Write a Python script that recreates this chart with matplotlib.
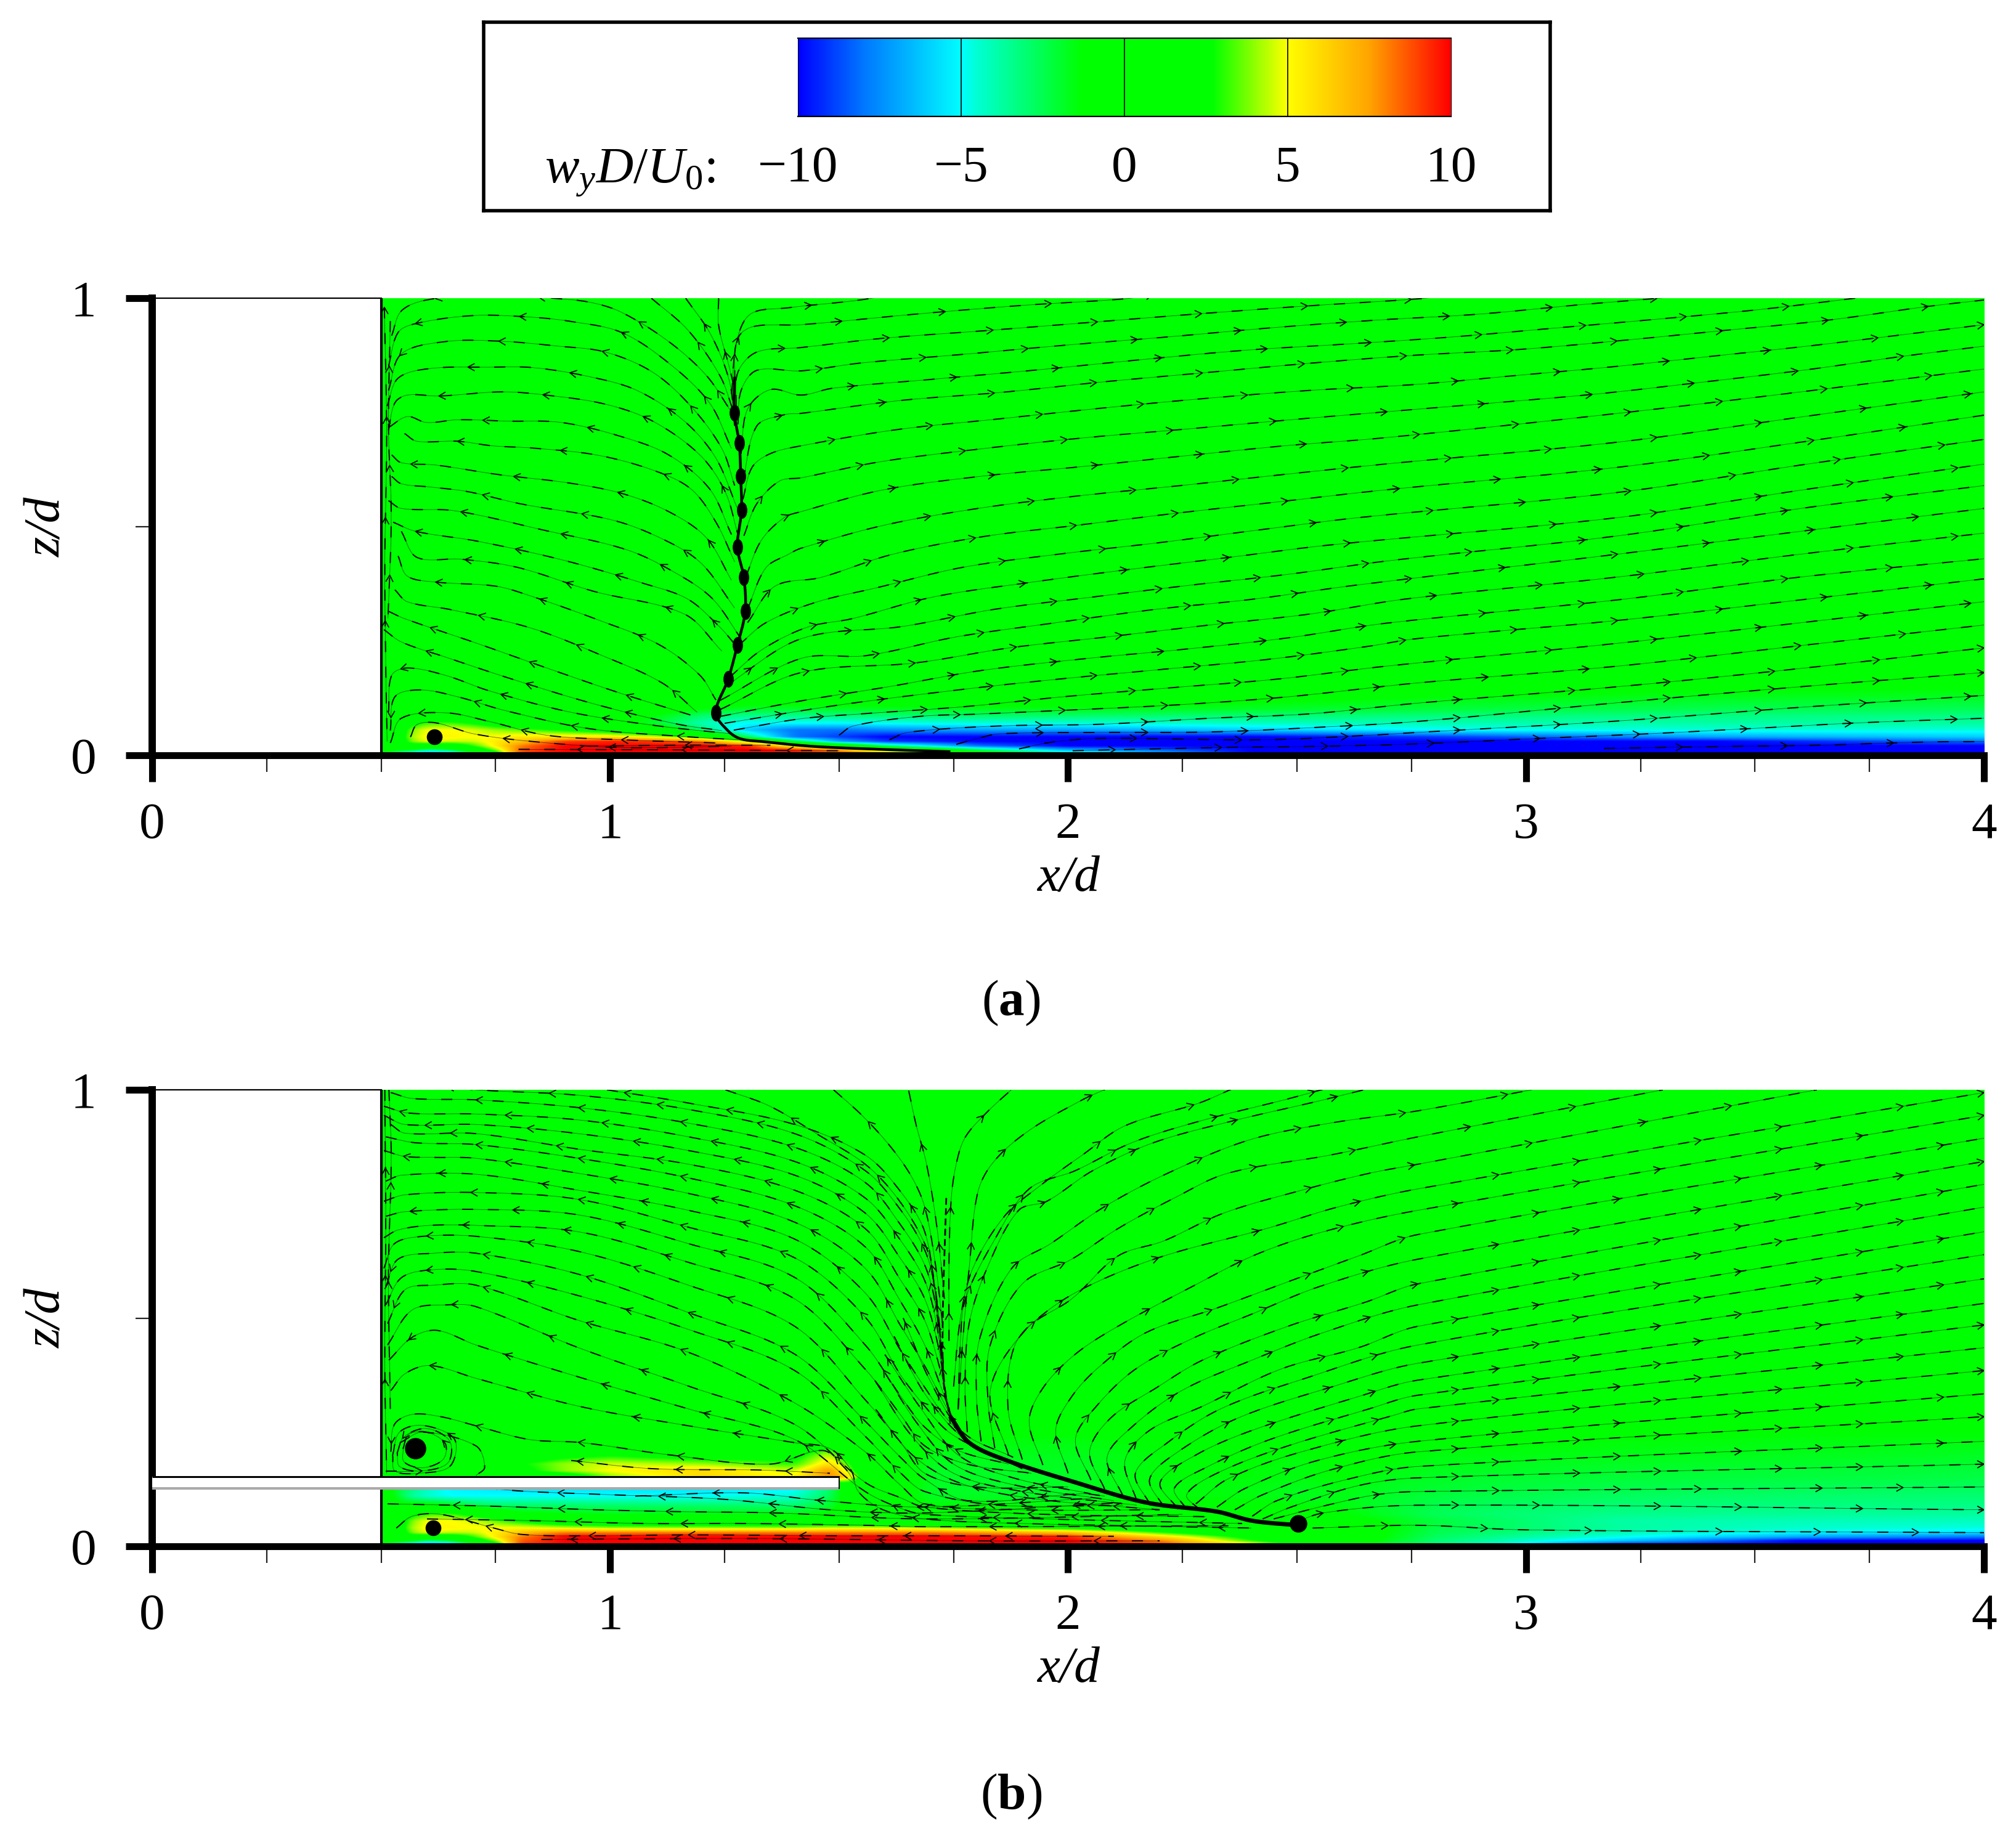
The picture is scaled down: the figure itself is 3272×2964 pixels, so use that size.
import numpy as np
import matplotlib
matplotlib.use("Agg")
import matplotlib.pyplot as plt
from matplotlib.collections import LineCollection
from matplotlib.colors import LinearSegmentedColormap
from matplotlib.patches import Rectangle
from matplotlib.path import Path
from matplotlib.transforms import Affine2D

plt.rcParams['font.family'] = ['Liberation Serif', 'DejaVu Serif']
plt.rcParams['mathtext.fontset'] = 'custom'
plt.rcParams['mathtext.rm'] = 'Liberation Serif'
plt.rcParams['mathtext.it'] = 'Liberation Serif:italic'
plt.rcParams['mathtext.bf'] = 'Liberation Serif:bold'
plt.rcParams['lines.scale_dashes'] = False

# ---------------- colour scale ----------------
CBAR_TICKS = [-10, -5, 0, 5, 10]
CBAR_LABELS = ['\u221210', '\u22125', '0', '5', '10']
CMAP_VALUES = [-10, -8, -5, -4.6, -1.3, 2.7, 5, 7.5, 10]
CMAP_COLORS = ['#0000ff', '#0078ff', '#00ffff', '#00ffd8', '#00ff00', '#00ff00', '#ffff00', '#ffa500', '#ff0000']

XTICKS = [0, 1, 2, 3, 4]
XMINOR = [0.25, 0.5, 0.75, 1.25, 1.5, 1.75, 2.25, 2.5, 2.75, 3.25, 3.5, 3.75]
YTICKS = [0, 1]
YMINOR = [0.5]

# ---------------- panel (a) field w_y D/U0 ----------------
XA = [.5, .53, .56, .6, .65, .7, .75, .8, .9, 1.0, 1.1, 1.2, 1.3, 1.4, 1.5, 1.6, 1.8, 2.0, 2.4, 2.8, 3.4, 4.0]
ZA = [0, .005, .012, .02, .03, .04, .055, .07, .085, .1, .13, .2, 1]
FIELD_A = [
    [-1, -4, -7, -9, -8, -4, 1, 9, 10, 10, 10, 10, 10, 10, 10, 8, 1, -6, -10, -10, -10, -10],
    [-1, -3, -5, -7, -6, -2, 2, 9, 10, 10, 10, 10, 10, 10, 9, 6, 0, -4, -10, -10, -10, -10],
    [0, -1, -1, -3, -2, 1, 4, 8.5, 10, 10, 10, 10, 10, 9, 7, 3, -3, -7, -10, -10, -10, -10],
    [0, 0, 2, 1, 1, 3, 5.5, 8, 10, 10, 10, 10, 9.5, 5, 2, -3, -8, -10, -10, -10, -10, -10],
    [0, 0, 3.5, 5, 4.5, 4.5, 5.5, 6.5, 9, 9.5, 9, 8, 4, -2, -7, -9, -10, -10, -10, -10, -10, -8],
    [0, 0, 4, 5.2, 5.2, 5, 5, 5.5, 5.5, 5.5, 4.5, 2.5, -3, -8, -9, -10, -10, -10, -10, -9, -7, -6],
    [0, 0, 3.5, 5, 5, 4.6, 4, 3.5, 2.5, 1.5, 0, -3, -6, -8, -8, -7.5, -7, -7, -6, -5, -4.6, -4.6],
    [0, 0, 2, 3.2, 3.2, 2.6, 1.5, 1, 0, -.5, -2, -4, -5, -5, -5, -4.8, -4.6, -4.5, -4.2, -4, -3.8, -3.7],
    [0, 0, 0, .5, .5, .5, 0, 0, 0, -.5, -1.5, -3, -3.5, -3.5, -3.3, -3.1, -3, -3, -3.1, -3.2, -3.3, -3.3],
    [0, 0, 0, 0, 0, 0, 0, 0, 0, 0, -.5, -1.5, -2, -2, -1.9, -1.8, -1.7, -1.7, -1.9, -2.2, -2.5, -2.6],
    [0, 0, 0, 0, 0, 0, 0, 0, 0, 0, 0, 0, 0, 0, 0, 0, 0, 0, -.8, -1.3, -1.6, -1.7],
    [0] * 22,
    [0] * 22,
]

# ---------------- panel (b) field ----------------
XB = [.5, .53, .56, .6, .65, .7, .75, .8, .9, 1.0, 1.2, 1.4, 1.48, 1.52, 1.56, 1.7, 2.0, 2.2, 2.4, 2.5, 2.6, 2.7, 2.8, 2.95, 3.2, 3.6, 4.0]
ZB = [0, .005, .012, .02, .03, .04, .055, .07, .09, .11, .126, .152, .165, .18, .2, .23, .28, .4, 1]
FIELD_B = [
    [-1, -4, -7, -9, -8, -4, 1, 9, 10, 10, 10, 10, 10, 10, 10, 10, 10, 10, 8, 2, 0, -2.5, -3.5, -6, -10, -10, -10],
    [-1, -3, -5, -7, -6, -2, 2, 9, 10, 10, 10, 10, 10, 10, 10, 10, 10, 9, 5, 2, 0, -2, -3, -4.5, -9, -10, -10],
    [0, -1, -1, -3, -2, 1, 4, 8.5, 10, 10, 10, 10, 10, 10, 10, 10, 10, 8, 3, 1, 0, -1.7, -3, -4, -6, -10, -10],
    [0, 0, 2, 1, 1, 3, 5.5, 8, 10, 10, 10, 10, 10, 10, 10, 10, 9.5, 6, 2, 0, 0, -1.5, -2.7, -3.5, -4.8, -7, -8],
    [0, 0, 3.5, 5, 4.5, 4.5, 5.5, 6.5, 8, 8, 8, 8, 8, 8, 8, 8, 6.5, 3, 0, 0, 0, -1.4, -2.5, -3, -4, -5, -5.5],
    [0, 0, 4, 5.2, 5.2, 5, 5, 5, 4.5, 4, 4, 4, 4.5, 4.5, 4.5, 4, 2, 0, 0, 0, 0, -1.3, -2.3, -2.8, -3.7, -4.4, -4.7],
    [0, 0, 3.5, 5, 5, 4.6, 3.5, 2.5, .5, 0, 0, 0, 0, 0, 0, 0, 0, 0, 0, 0, -.8, -1.5, -2.2, -2.8, -3.8, -4.1, -4.2],
    [0, 0, 2, 3.2, 3.2, 2, .5, -1, -1.3, -1.5, -1.5, -1.5, -1.2, 0, 0, -.8, -.8, -.5, -.5, -.8, -1.3, -1.9, -2.6, -3, -3.4, -3.6, -3.7],
    [0, -1, -1, -1, -1.5, -2.5, -3, -3, -3, -3, -3, -3, -2, -.5, 0, -1.4, -1.5, -1, -1.2, -1.4, -1.5, -2, -2.4, -2.7, -3, -3.2, -3.3],
    [0, -1.5, -3.5, -4.5, -5, -5, -5, -5, -5, -5, -5, -4.5, -2.5, -.5, 0, -1.8, -1.8, -1.4, -1.5, -1.7, -1.6, -1.9, -2.2, -2.4, -2.7, -2.9, -3],
    [0, -2, -3, -4.2, -5.2, -5.3, -5.5, -5.5, -5.5, -5.5, -5.5, -5.2, -3, 0, 0, -1.8, -1.8, -1.4, -1.5, -1.7, -1.5, -1.8, -2, -2.2, -2.4, -2.6, -2.7],
    [0, 0, 0, 0, 0, 0, 0, .5, 1, 4, 6, 5, 8, 6, .5, -1.8, -1.8, -1.4, -1.4, -1.5, -1.3, -1.6, -1.8, -2, -2.1, -2.2, -2.3],
    [0, 0, 0, 0, 0, 0, .5, 2, 4, 5, 6, 4.5, 8, 4, 0, -1.8, -1.8, -1.4, -1.4, -1.5, -1.3, -1.5, -1.7, -1.8, -2, -2.1, -2.2],
    [0, 0, 0, 0, 0, 0, 1, 2.5, 4, 4.6, 4, 3, 6, 3, 0, -1.7, -1.8, -1.4, -1.3, -1.5, -1.2, -1.4, -1.6, -1.7, -1.8, -1.9, -2],
    [0, 0, 0, 0, 0, 0, 0, 1, 2, 2.5, 1.5, 2, 4.5, 1, 0, -1.6, -1.7, -1.4, -1.3, -1.4, -1.1, -1.3, -1.5, -1.5, -1.6, -1.7, -1.8],
    [0] * 12 + [1, 0, 0] + [-1.4, -1.5, -1.3, -1, -1, -1, -1.2, -1.3, -1.3, -1.4, -1.5, -1.5],
    [0] * 15 + [-.8, -.8, -.5, -.2, -.2, -.3, -.5, -.7, -.8, -.9, -1, -1],
    [0] * 27,
    [0] * 27,
]

# ---------------- panel (a) streamlines (x/d, z/d) ----------------
LEFT_A = [
    [(.523,.918),(.544,.972),(.599,.996),(.736,1.009),(.873,1.0),(.956,.991),(1.025,.969),(1.128,.905),(1.21,.831),(1.265,.751)],
    [(.516,.851),(.537,.925),(.578,.945),(.702,.962),(.819,.959),(.915,.949),(1.025,.925),(1.128,.858),(1.217,.771),(1.265,.671)],
    [(.516,.798),(.544,.878),(.64,.905),(.757,.906),(.887,.895),(.99,.882),(1.093,.838),(1.176,.764),(1.244,.671),(1.272,.59)],
    [(.513,.764),(.537,.825),(.606,.846),(.736,.849),(.832,.848),(.956,.828),(1.059,.798),(1.162,.731),(1.231,.65),(1.279,.537)],
    [(.516,.711),(.53,.771),(.557,.788),(.626,.786),(.764,.795),(.86,.788),(.99,.768),(1.093,.731),(1.196,.657),(1.251,.577),(1.279,.483)],
    [(.516,.717),(.557,.741),(.599,.728),(.667,.734),(.777,.731),(.894,.728),(1.025,.697),(1.128,.657),(1.217,.583),(1.265,.483)],
    [(.551,.704),(.578,.687),(.667,.687),(.743,.677),(.832,.672),(.97,.657),(1.093,.624),(1.176,.583),(1.231,.51),(1.272,.423)],
    [(.523,.657),(.544,.64),(.619,.635),(.757,.614),(.908,.596),(1.025,.573),(1.128,.533),(1.21,.476),(1.265,.383)],
    [(.523,.61),(.544,.594),(.606,.587),(.688,.577),(.805,.55),(1.011,.513),(1.135,.463),(1.203,.416),(1.272,.322)],
    [(.516,.557),(.544,.54),(.66,.535),(.853,.493),(1.038,.449),(1.148,.396),(1.224,.342),(1.286,.255)],
    [(.526,.51),(.575,.49),(.712,.468),(.901,.426),(1.073,.376),(1.169,.342),(1.238,.282),(1.279,.235)],
    [(.544,.49),(.578,.433),(.674,.429),(.798,.411),(.963,.359),(1.162,.309),(1.244,.228)],
    [(.537,.436),(.557,.392),(.619,.379),(.75,.37),(.825,.349),(.977,.295),(1.107,.242),(1.196,.175),(1.231,.121)],
    [(.53,.362),(.557,.336),(.65,.319),(.825,.279),(.983,.218),(1.114,.158),(1.19,.094)],
    [(.516,.315),(.551,.299),(.709,.245),(.87,.188),(1.025,.135),(1.176,.088)],
    [(.506,.275),(.544,.248),(.64,.215),(.791,.165),(.97,.111),(1.148,.068),(1.244,.054)],
    [(.516,.094),(.523,.175),(.557,.191),(.64,.175),(.736,.141),(.915,.094),(1.107,.064),(1.265,.047)],
    [(.52,.054),(.53,.128),(.585,.143),(.667,.128),(.77,.098),(.956,.058),(1.162,.041),(1.279,.034)],
    [(.52,.027),(.544,.081),(.64,.093),(.736,.074),(.86,.044),(1.025,.034),(1.231,.027)],
    [(.564,.04),(.578,.067),(.619,.071),(.702,.047),(.832,.03),(1.025,.017),(1.265,.02)],
    [(.8,.013),(1.1,.012),(1.5,.01)],
    [(.95,.02),(1.15,.022),(1.35,.022)],
    [(.507,.98),(.512,.7),(.508,.42),(.51,.2),(.513,.03)],
    [(.52,.95),(.516,.72),(.522,.52),(.515,.3)],
    [(1.09,1.0),(1.17,.93),(1.24,.83),(1.27,.75)],
    [(1.165,1.0),(1.22,.92),(1.26,.82),(1.272,.72)],
    [(1.237,1.0),(1.237,.94),(1.26,.85),(1.272,.8)],
]
RIGHT_A = [
    [(1.272,.818),(1.275,.9),(1.306,.965),(1.389,.979),(1.53,.994),(1.605,1.005)],
    [(1.265,.79),(1.279,.912),(1.313,.938),(1.417,.942),(1.666,.965),(1.897,.984),(2.129,.999),(2.2,1.01)],
    [(1.275,.764),(1.279,.838),(1.32,.882),(1.417,.892),(1.593,.912),(1.82,.929),(2.048,.947),(2.275,.965),(2.507,.982),(2.73,.996),(2.82,1.003)],
    [(1.279,.724),(1.286,.798),(1.32,.842),(1.417,.841),(1.546,.858),(1.769,.877),(1.992,.897),(2.215,.915),(2.442,.935),(2.674,.952),(2.896,.965),(3.122,.986),(3.33,1.003)],
    [(1.286,.66),(1.3,.757),(1.35,.8),(1.417,.788),(1.486,.803),(1.709,.823),(1.932,.843),(2.155,.865),(2.386,.886),(2.614,.9),(2.837,.915),(3.068,.935),(3.286,.954),(3.509,.975),(3.736,1.002)],
    [(1.29,.6),(1.32,.72),(1.38,.745),(1.417,.748),(1.632,.776),(1.855,.794),(2.078,.817),(2.31,.838),(2.532,.858),(2.755,.875),(2.988,.888),(3.215,.908),(3.429,.929),(3.66,.952),(3.878,.982),(4.0,.996)],
    [(1.29,.56),(1.31,.63),(1.35,.66),(1.417,.677),(1.623,.712),(1.85,.736),(2.069,.759),(2.292,.78),(2.524,.798),(2.755,.811),(2.98,.831),(3.2,.851),(3.425,.875),(3.64,.898),(4.0,.942)],
    [(1.292,.48),(1.32,.55),(1.37,.6),(1.417,.607),(1.589,.642),(1.807,.67),(2.03,.694),(2.262,.714),(2.486,.734),(2.713,.753),(2.942,.772),(3.16,.791),(3.383,.816),(3.61,.843),(3.824,.873),(4.0,.895)],
    [(1.296,.39),(1.33,.47),(1.38,.52),(1.417,.533),(1.593,.58),(1.807,.61),(2.035,.632),(2.245,.654),(2.472,.677),(2.695,.695),(3.2,.748),(3.6,.795),(4.0,.845)],
    [(1.3,.32),(1.34,.41),(1.39,.44),(1.417,.453),(1.597,.503),(1.803,.54),(2.018,.567),(2.245,.59),(2.468,.614),(2.691,.637),(3.2,.685),(3.6,.74),(4.0,.795)],
    [(1.3,.29),(1.36,.37),(1.46,.389),(1.614,.439),(1.812,.478),(2.018,.503),(2.24,.53),(2.464,.555),(2.687,.58),(3.2,.63),(3.6,.685),(4.0,.744)],
    [(1.28,.24),(1.34,.29),(1.45,.335),(1.58,.366),(1.769,.411),(1.988,.441),(2.206,.466),(2.417,.493),(2.635,.52),(3.2,.575),(3.6,.635),(4.0,.691)],
    [(1.26,.17),(1.33,.23),(1.43,.28),(1.529,.299),(1.704,.346),(1.923,.379),(2.129,.406),(2.352,.433),(2.571,.46),(3.2,.52),(3.6,.58),(4.0,.637)],
    [(1.25,.15),(1.417,.255),(1.64,.282),(1.837,.319),(2.052,.346),(2.266,.372),(2.481,.396),(2.704,.426),(3.2,.48),(3.6,.54),(4.0,.59)],
    [(1.24,.12),(1.417,.212),(1.559,.218),(1.756,.259),(1.966,.289),(2.189,.319),(2.408,.342),(2.627,.372),(3.2,.44),(3.6,.49),(4.0,.54)],
    [(1.24,.1),(1.417,.181),(1.666,.202),(1.872,.235),(2.086,.259),(2.309,.285),(2.528,.309),(2.738,.342),(3.2,.39),(3.6,.44),(4.0,.486)],
    [(1.24,.085),(1.417,.119),(1.614,.151),(1.807,.185),(2.043,.212),(2.254,.232),(2.481,.257),(2.695,.289),(3.2,.34),(3.6,.39),(4.0,.43)],
    [(1.25,.07),(1.5,.11),(1.777,.145),(1.983,.167),(2.206,.188),(2.438,.21),(2.653,.238),(2.76,.255),(3.2,.295),(3.6,.34),(4.0,.386)],
    [(1.27,.055),(1.417,.08),(1.554,.091),(1.769,.106),(2.0,.129),(2.228,.148),(2.46,.167),(2.695,.195),(3.2,.245),(3.6,.29),(4.0,.336)],
    [(1.5,.044),(1.53,.064),(1.674,.085),(1.8,.09),(2.026,.1),(2.249,.111),(2.481,.128),(2.76,.158),(3.2,.195),(3.6,.24),(4.0,.285)],
    [(1.61,.034),(1.649,.05),(1.846,.064),(2.073,.068),(2.309,.081),(2.532,.091),(2.762,.114),(3.2,.15),(3.6,.19),(4.0,.235)],
    [(1.756,.024),(1.803,.037),(1.85,.047),(2.073,.05),(2.309,.051),(2.542,.061),(2.762,.074),(3.2,.115),(3.6,.15),(4.0,.181)],
    [(1.893,.014),(1.966,.029),(2.073,.037),(2.43,.034),(2.66,.044),(2.762,.05),(3.2,.075),(3.6,.105),(4.0,.131)],
    [(2.01,.01),(2.335,.017),(2.567,.02),(2.76,.025),(3.03,.037),(3.265,.047),(3.5,.059),(3.727,.071),(4.0,.081)],
    [(3.17,.015),(3.41,.019),(3.635,.022),(3.87,.029),(4.0,.03)],
]
SEPARATRIX_A = [(1.272,.825),(1.271,.75),(1.282,.683),(1.285,.61),(1.287,.537),(1.278,.456),(1.292,.389),(1.295,.315),
                (1.278,.241),(1.258,.167),(1.231,.093),(1.258,.053),(1.285,.036),(1.333,.03),(1.436,.02),(1.55,.0145),(1.74,.008)]
NODES_A_X = [1.271, 1.282, 1.285, 1.287, 1.278, 1.292, 1.295, 1.278, 1.258, 1.231]
NODES_A_Z = [.75, .683, .61, .537, .456, .389, .315, .241, .167, .093]
VORTEX_A = (.616, .04)

# ---------------- panel (b) streamlines ----------------
BL_X = [.707, .931, 1.171, 1.403, 1.557, 1.635, 1.687]
BL_Z = [
    [.441,.371,.301,.234,.12,.083,.07],
    [.525,.435,.351,.267,.14,.106,.086],
    [.572,.495,.425,.314,.207,.133,.093],
    [.602,.549,.475,.385,.241,.16,.12],
    [.642,.596,.512,.421,.274,.194,.147],
    [.679,.646,.572,.482,.321,.227,.16],
    [.703,.689,.622,.542,.388,.287,.22],
    [.738,.726,.663,.589,.441,.328,.261],
    [.775,.76,.699,.632,.502,.374,.307],
    [.815,.78,.736,.673,.555,.428,.348],
    [.85,.817,.773,.71,.609,.482,.395],
    [.88,.85,.807,.746,.656,.535,.441],
    [.904,.87,.837,.78,.696,.582,.495],
    [.924,.904,.867,.813,.73,.629,.542],
    [.947,.934,.897,.843,.763,.669,.582],
    [.978,.961,.927,.874,.797,.703,.616],
    [1.0,.988,.957,.904,.823,.736,.649],
]
BL_HEAD = [
    [(.517,.408),(.568,.458),(.622,.473)],
    [(.514,.441),(.568,.518),(.645,.529)],
    [(.514,.488),(.552,.562),(.614,.572)],
    [(.51,.529),(.545,.589),(.614,.606)],
    [(.51,.569),(.537,.629),(.614,.642)],
    [(.506,.609),(.529,.663),(.591,.679)],
    [(.506,.676),(.537,.693),(.606,.703)],
    [(.51,.723),(.552,.733)],
    [(.506,.756),(.552,.77)],
    [(.51,.8),(.545,.813)],
    [(.506,.867),(.552,.854),(.614,.852)],
    [(.51,.897),(.575,.884)],
    [(.521,.924),(.552,.905)],
    [(.506,.944),(.552,.924)],
    [(.506,.964),(.56,.949)],
    [(.521,.994),(.568,.981)],
    [(.62,1.01)],
]
BL_TAIL = [
    [(1.95,.06),(2.38,.05)],
    [(1.95,.07),(2.3,.065)],
    [(1.9,.08),(2.2,.08)],
    [(1.85,.09),(2.12,.09)],
    [(1.78,.1),(2.03,.115),(2.08,.11)],
    [(1.8,.13),(2.0,.13)],
    [(1.78,.18),(1.92,.16)],
    [(1.76,.21),(1.87,.18)],
    [(1.74,.25),(1.83,.2)],
    [(1.735,.28),(1.8,.215)],
    [(1.726,.32),(1.77,.24)],
    [(1.722,.35),(1.755,.262)],
    [(1.72,.39),(1.745,.28)],
    [(1.716,.44),(1.738,.3)],
    [(1.714,.48),(1.733,.32)],
    [(1.712,.52),(1.73,.34)],
    [(1.71,.56),(1.73,.36)],
]
LEFT_B_EXTRA = [
    [(.521,.341),(.552,.378),(.606,.396),(.707,.368),(.931,.307),(1.171,.264),(1.403,.227),(1.48,.214),(1.526,.167),(1.542,.12),(1.596,.08),(1.687,.06),(1.9,.05),(2.4,.04)],
    [(.993,1.0),(1.171,.971),(1.403,.924),(1.557,.857),(1.635,.776),(1.687,.689),(1.71,.55),(1.728,.4)],
    [(1.252,1.0),(1.349,.964),(1.457,.9),(1.557,.837),(1.627,.763),(1.687,.663),(1.708,.58),(1.725,.42)],
    [(1.488,1.0),(1.55,.944),(1.611,.877),(1.658,.81),(1.687,.743),(1.71,.62),(1.728,.47)],
    [(1.652,.998),(1.668,.924),(1.691,.837),(1.714,.696),(1.73,.542)],
    [(.521,.207),(.529,.267),(.568,.289),(.63,.284),(.707,.264),(.823,.234),(.939,.227),(1.132,.2),(1.349,.18),(1.464,.21),(1.511,.173),(1.534,.14)],
    [(.541,.227),(.591,.25),(.707,.22),(.726,.173),(.707,.155)],
    [(.915,.188),(1.093,.17),(1.33,.167),(1.48,.16)],
    [(.548,.215),(.56,.245),(.6,.25),(.64,.225),(.635,.19),(.59,.172),(.55,.185),(.548,.215)],
    [(.525,.2),(.54,.25),(.59,.265),(.66,.235),(.65,.175),(.58,.16),(.53,.165),(.525,.2)],
    [(.535,.205),(.55,.24),(.6,.258),(.65,.23),(.645,.182),(.585,.165),(.54,.175),(.535,.205)],
    [(.51,.165),(.54,.165),(.57,.165)],
    [(.533,.04),(.568,.066),(.63,.07),(.746,.04),(.807,.026),(.954,.023),(1.171,.025),(1.48,.023),(1.687,.023),(2.1,.022)],
    [(.73,.127),(.823,.12),(1.0,.113),(1.248,.103),(1.48,.08),(1.687,.073),(2.1,.095)],
    [(1.055,.11),(1.294,.117),(1.464,.1),(1.687,.086),(2.05,.105)],
    [(.514,.093),(.738,.088),(.97,.08),(1.148,.076),(1.364,.073),(1.687,.06),(2.25,.07)],
    [(.6,.06),(.838,.056),(1.078,.05),(1.294,.05),(1.557,.046),(1.687,.043),(2.35,.045)],
    [(.85,.015),(1.3,.017),(1.8,.012),(2.2,.012)],
    [(.508,1.0),(.51,.7),(.508,.4),(.512,.16)],
    [(.517,1.0),(.522,.85),(.516,.6),(.52,.3)],
    [(1.6,.42),(1.68,.3),(1.76,.2),(1.88,.15),(2.05,.115)],
    [(1.6,.38),(1.67,.27),(1.75,.18),(1.88,.135),(2.1,.1)],
    [(1.58,.36),(1.66,.24),(1.75,.16),(1.9,.12),(2.15,.09)],
    [(1.58,.3),(1.66,.2),(1.76,.14),(1.92,.105),(2.2,.08)],
    [(1.64,.5),(1.7,.36),(1.77,.25),(1.88,.195)],
    [(1.62,.46),(1.69,.33),(1.78,.23),(1.9,.17)],
]
RIGHT_B = [
    [(1.74,.45),(1.74,.62),(1.745,.763),(1.757,.843),(1.776,.897),(1.823,.951),(1.877,1.001)],
    [(1.76,.3),(1.77,.45),(1.785,.62),(1.803,.776),(1.838,.843),(1.915,.911),(2.031,.978),(2.081,1.001)],
    [(1.75,.35),(1.765,.5),(1.792,.609),(1.861,.723),(1.939,.79),(2.031,.857),(2.124,.921),(2.286,.971),(2.356,1.001)],
    [(1.76,.3),(1.765,.45),(1.776,.542),(1.838,.669),(1.915,.783),(2.016,.823),(2.139,.884),(2.286,.931),(2.472,.978),(2.557,1.001)],
    [(1.78,.25),(1.775,.35),(1.784,.488),(1.823,.609),(1.892,.736),(1.954,.756),(2.054,.823),(2.186,.884),(2.356,.931),(2.541,.974),(2.65,1.001)],
    [(1.81,.23),(1.8,.33),(1.807,.455),(1.877,.609),(1.962,.663),(2.078,.743),(2.217,.817),(2.395,.89),(2.572,.927),(2.764,.954),(3.013,1.0)],
    [(1.84,.215),(1.825,.32),(1.83,.441),(1.9,.575),(2.008,.629),(2.109,.696),(2.232,.763),(2.348,.817),(2.572,.857),(2.764,.897),(3.299,1.0)],
    [(1.87,.2),(1.83,.341),(1.908,.475),(2.008,.542),(2.109,.636),(2.209,.669),(2.34,.73),(2.51,.78),(2.657,.817),(2.764,.837),(3.635,1.0)],
    [(1.9,.19),(1.869,.301),(1.884,.441),(1.954,.515),(2.054,.575),(2.209,.636),(2.433,.696),(2.588,.743),(2.764,.783),(4,.994)],
    [(1.945,.178),(1.915,.274),(1.946,.348),(2.016,.421),(2.109,.482),(2.271,.569),(2.41,.639),(2.557,.689),(2.764,.736),(4,.944)],
    [(2.0,.16),(1.973,.254),(2.008,.328),(2.07,.395),(2.17,.468),(2.325,.522),(2.487,.582),(2.634,.636),(2.764,.683),(4,.894)],
    [(2.05,.145),(2.016,.234),(2.062,.307),(2.147,.388),(2.271,.455),(2.402,.509),(2.549,.569),(2.764,.629),(4,.843)],
    [(2.08,.125),(2.047,.207),(2.093,.281),(2.194,.348),(2.294,.408),(2.48,.482),(2.65,.535),(2.764,.575),(4,.793)],
    [(2.12,.11),(2.085,.194),(2.139,.261),(2.248,.341),(2.402,.408),(2.557,.468),(2.764,.529),(4,.743)],
    [(2.15,.1),(2.124,.187),(2.178,.254),(2.294,.307),(2.464,.388),(2.634,.435),(2.764,.482),(4,.689)],
    [(2.18,.09),(2.147,.16),(2.217,.227),(2.333,.301),(2.518,.368),(2.764,.441),(4,.639)],
    [(2.21,.085),(2.178,.147),(2.24,.207),(2.371,.281),(2.572,.348),(2.764,.401),(4,.586)],
    [(2.24,.082),(2.201,.14),(2.279,.2),(2.402,.254),(2.634,.328),(2.764,.364),(4,.532)],
    [(2.26,.08),(2.232,.127),(2.302,.173),(2.441,.234),(2.657,.301),(2.764,.331),(4,.485)],
    [(2.29,.078),(2.259,.113),(2.325,.16),(2.48,.22),(2.711,.287),(2.764,.301),(4,.435)],
    [(2.279,.093),(2.348,.147),(2.51,.207),(2.764,.264),(4,.385)],
    [(2.325,.086),(2.387,.127),(2.541,.187),(2.764,.23),(4,.334)],
    [(2.364,.08),(2.425,.113),(2.572,.167),(2.764,.207),(4,.284)],
    [(2.402,.066),(2.456,.1),(2.611,.147),(2.764,.175),(4,.23)],
    [(2.425,.06),(2.487,.086),(2.634,.133),(2.764,.15),(4,.18)],
    [(2.449,.06),(2.565,.09),(2.673,.113),(2.764,.12),(4,.13)],
    [(2.48,.046),(2.557,.073),(2.764,.09),(4,.08)],
    [(2.534,.04),(2.764,.046),(3.0,.036),(4,.03)],
]
SEPARATRIX_B_UPPER = [(1.734,.763),(1.726,.475),(1.73,.341),(1.745,.281)]
SEPARATRIX_B_LOWER = [(1.745,.281),(1.784,.227),(1.861,.19),(2.016,.14),(2.17,.096),(2.325,.076),(2.402,.056),(2.503,.046)]
VORTEX_B_UPPER = (.575, .214)
VORTEX_B_LOWER = (.614, .04)
NODE_B_END = (2.503, .05)
PLATE_X = 1.5
PLATE_TOP = .152
PLATE_BOTTOM = .127
WALL_X = .5

# ---------------- helpers ----------------
W, H = 3273, 2964
cmap = LinearSegmentedColormap.from_list(
    'wy', [((v + 10) / 20, c) for v, c in zip(CMAP_VALUES, CMAP_COLORS)], N=512)
TALL = Affine2D().scale(.62, 1).transform_path(Path.unit_circle())


def smooth(pts, n=14):
    p = np.array(pts, float)
    if len(p) < 3:
        return p
    d = np.hypot(np.diff(p[:, 0]), np.diff(p[:, 1]))
    d[d == 0] = 1e-6
    t = np.r_[0, np.cumsum(d)]
    m = np.zeros_like(p)
    m[1:-1] = (p[2:] - p[:-2]) / (t[2:] - t[:-2])[:, None]
    m[0] = (p[1] - p[0]) / d[0]
    m[-1] = (p[-1] - p[-2]) / d[-1]
    out = []
    for i in range(len(p) - 1):
        u = np.linspace(0, 1, n, endpoint=False)[:, None]
        h00 = 2 * u**3 - 3 * u**2 + 1
        h10 = u**3 - 2 * u**2 + u
        h01 = -2 * u**3 + 3 * u**2
        h11 = u**3 - u**2
        out.append(h00 * p[i] + h10 * d[i] * m[i] + h01 * p[i + 1] + h11 * d[i] * m[i + 1])
    out.append(p[-1:])
    return np.vstack(out)


def draw_streamlines(ax, lines, reverse=False, spacing=170, seed_step=53):
    segs = [smooth(l) for l in lines]
    ax.add_collection(LineCollection(segs, colors=[(0, 0, 0, .6)], linewidths=.6, zorder=2))
    ax.add_collection(LineCollection(segs, colors='k', linewidths=1.4,
                                     linestyles=[(0, (13, 17))], capstyle='butt', zorder=2))
    chev = []
    inv = ax.transData.inverted()
    for idx, s in enumerate(segs):
        px = ax.transData.transform(s)
        if reverse:
            px = px[::-1]
        dl = np.hypot(*np.diff(px, axis=0).T)
        L = np.r_[0, np.cumsum(dl)]
        pos = (idx * seed_step) % spacing + 40
        while pos < L[-1] - 5:
            j = max(min(np.searchsorted(L, pos), len(px) - 1), 1)
            tip = px[j]
            dirv = px[j] - px[j - 1]
            dirv = dirv / (np.hypot(*dirv) + 1e-9)
            nrm = np.array([-dirv[1], dirv[0]])
            a = tip - 11 * dirv + 6 * nrm
            b = tip - 11 * dirv - 6 * nrm
            chev.append(inv.transform([a, tip, b]))
            pos += spacing
    ax.add_collection(LineCollection(chev, colors='k', linewidths=1.2, zorder=2))


def bilinear(xn, zn, table, nx=2600, nz=742):
    tab = np.array(table, float)
    assert tab.shape == (len(zn), len(xn))
    xf = np.linspace(WALL_X, 4, nx)
    zf = np.linspace(0, 1, nz)
    rows = np.array([np.interp(xf, xn, r) for r in tab])
    f = np.array([np.interp(zf, zn, rows[:, i]) for i in range(nx)]).T
    k = np.ones(25) / 25
    pad = np.pad(f, ((0, 0), (12, 12)), mode='edge')
    return np.array([np.convolve(r, k, mode='valid') for r in pad])


def make_axes(top_px, bottom_px):
    ax = fig.add_axes([247 / W, 1 - bottom_px / H, (3220 - 247) / W, (bottom_px - top_px) / H])
    ax.set_xlim(0, 4)
    ax.set_ylim(0, 1)
    for s in ('top', 'right'):
        ax.spines[s].set_visible(False)
    ax.spines['left'].set_linewidth(8.6)
    ax.spines['bottom'].set_linewidth(8)
    ax.set_xticks(XTICKS)
    ax.set_xticks(XMINOR, minor=True)
    ax.set_yticks(YTICKS)
    ax.set_yticks(YMINOR, minor=True)
    ax.tick_params(which='major', length=31, width=8, labelsize=60)
    ax.tick_params(which='minor', length=19.4, width=1.6, color='#222222')
    ax.tick_params(axis='x', which='major', pad=24)
    ax.tick_params(axis='y', which='major', pad=34)
    ax.set_xlabel('x/d', style='italic', fontsize=60, labelpad=8)
    ax.set_ylabel('z/d', style='italic', fontsize=60, labelpad=0)
    ax.plot([0, WALL_X], [1, 1], color='k', lw=1.6, zorder=3, clip_on=False)
    ax.plot([WALL_X, WALL_X], [0, 1], color='k', lw=3, zorder=3)
    return ax


# ---------------- figure ----------------
fig = plt.figure(figsize=(W / 100, H / 100), dpi=100, facecolor='white')

boxax = fig.add_axes([785 / W, 1 - 342 / H, (2516 - 785) / W, (342 - 36) / H])
boxax.set_xticks([])
boxax.set_yticks([])
for s in boxax.spines.values():
    s.set_linewidth(4)

cax = fig.add_axes([1295 / W, 1 - 189 / H, (2355 - 1295) / W, (189 - 62) / H])
grad = np.linspace(-10, 10, 1060)[None, :]
cax.imshow(grad, extent=[-10, 10, 0, 1], aspect='auto', cmap=cmap, vmin=-10, vmax=10)
cax.set_yticks([])
cax.set_xticks(CBAR_TICKS)
cax.set_xticklabels(CBAR_LABELS, fontsize=60)
cax.tick_params(axis='x', length=0, pad=34)
cax.vlines(CBAR_TICKS[1:-1], 0, 1, color='k', lw=1.2)
for s in ('left', 'right'):
    cax.spines[s].set_linewidth(.8)
for s in ('top', 'bottom'):
    cax.spines[s].set_linewidth(1.6)
fig.text(1160 / W, 1 - 296 / H, r'$\mathit{w}_{\mathit{y}}\mathit{D}/\mathit{U}_{0}$:', fontsize=60,
         ha='right', va='baseline')

ax_a = make_axes(484, 1226)
ax_a.imshow(bilinear(XA, ZA, FIELD_A), extent=[WALL_X, 4, 0, 1], origin='lower', aspect='auto',
            cmap=cmap, vmin=-10, vmax=10, interpolation='nearest', zorder=1)
ax_a.set_xlim(0, 4)
ax_a.set_ylim(0, 1)
draw_streamlines(ax_a, LEFT_A, reverse=True)
draw_streamlines(ax_a, RIGHT_A)
ax_a.plot(*zip(*smooth(SEPARATRIX_A)), color='k', lw=3.2, zorder=3)
ax_a.scatter(NODES_A_X, NODES_A_Z, s=380, c='k', marker=TALL, zorder=3, linewidths=0)
ax_a.scatter(*VORTEX_A, s=340, c='k', zorder=3, linewidths=0)

ax_b = make_axes(1769, 2510)
ax_b.imshow(bilinear(XB, ZB, FIELD_B), extent=[WALL_X, 4, 0, 1], origin='lower', aspect='auto',
            cmap=cmap, vmin=-10, vmax=10, interpolation='nearest', zorder=1)
ax_b.set_xlim(0, 4)
ax_b.set_ylim(0, 1)
left_b = list(LEFT_B_EXTRA)
for head, zs, tail in zip(BL_HEAD, BL_Z, BL_TAIL):
    left_b.append(list(head) + list(zip(BL_X, zs)) + list(tail))
draw_streamlines(ax_b, left_b, reverse=True)
draw_streamlines(ax_b, RIGHT_B)
ax_b.plot(*zip(*smooth(SEPARATRIX_B_UPPER)), color='k', lw=2, ls=(0, (8, 4)), zorder=3)
ax_b.plot(*zip(*smooth(SEPARATRIX_B_LOWER)), color='k', lw=5, zorder=3)
ax_b.scatter(*VORTEX_B_UPPER, s=620, c='k', zorder=3, linewidths=0)
ax_b.scatter(*VORTEX_B_LOWER, s=340, c='k', zorder=3, linewidths=0)
ax_b.scatter(*NODE_B_END, s=420, c='k', zorder=3, linewidths=0)
ax_b.add_patch(Rectangle((0, PLATE_BOTTOM), PLATE_X, PLATE_TOP - PLATE_BOTTOM, fc='white', ec='none', zorder=4))
ax_b.plot([0, PLATE_X], [PLATE_TOP, PLATE_TOP], color='k', lw=2.2, zorder=5, solid_capstyle='butt')
ax_b.plot([0, PLATE_X], [PLATE_BOTTOM, PLATE_BOTTOM], color='#aaaaaa', lw=3, zorder=5, solid_capstyle='butt')
ax_b.plot([PLATE_X, PLATE_X], [PLATE_BOTTOM, PLATE_TOP], color='k', lw=1.4, zorder=5)

fig.text(1641 / W, 1 - 1628 / H, r'($\mathbf{a}$)', fontsize=60, ha='center', va='center')
fig.text(1641 / W, 1 - 2916 / H, r'($\mathbf{b}$)', fontsize=60, ha='center', va='center')

fig.savefig('out.png', dpi=100, facecolor='white')
